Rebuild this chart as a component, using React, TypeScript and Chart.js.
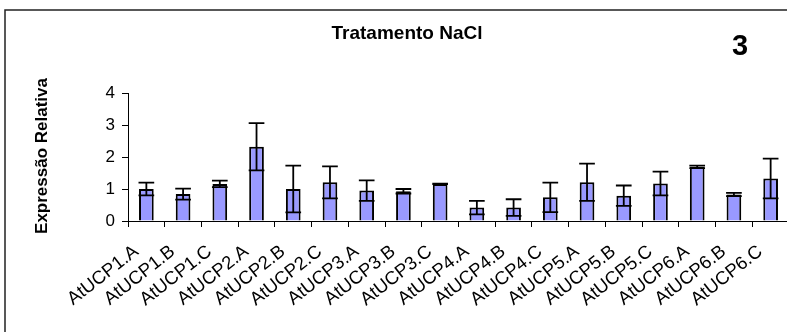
import React, { useEffect, useRef } from "react";
import { Chart, registerables } from "chart.js";

Chart.register(...registerables);

const categories = [
  "AtUCP1.A", "AtUCP1.B", "AtUCP1.C",
  "AtUCP2.A", "AtUCP2.B", "AtUCP2.C",
  "AtUCP3.A", "AtUCP3.B", "AtUCP3.C",
  "AtUCP4.A", "AtUCP4.B", "AtUCP4.C",
  "AtUCP5.A", "AtUCP5.B", "AtUCP5.C",
  "AtUCP6.A", "AtUCP6.B", "AtUCP6.C",
];
const values = [1.0, 0.84, 1.16, 2.32, 1.0, 1.21, 0.95, 0.93, 1.16, 0.42, 0.42, 0.74, 1.21, 0.79, 1.17, 1.69, 0.83, 1.33];
const errors = [0.2, 0.17, 0.1, 0.74, 0.73, 0.5, 0.32, 0.07, 0.01, 0.21, 0.26, 0.46, 0.58, 0.32, 0.37, 0.04, 0.05, 0.62];
const yTicks = [0, 1, 2, 3, 4];
const chartTitle = "Tratamento NaCl";
const yTitle = "Expressão Relativa";
const panelLabel = "3";

const FONT = "'Liberation Sans', Arial, sans-serif";
const LABEL_ANGLE = (38 * Math.PI) / 180;

const overlayPlugin = {
  id: "overlay",
  beforeDraw(chart: any) {
    const ctx = chart.ctx;
    ctx.save();
    ctx.strokeStyle = "#222";
    ctx.lineWidth = 1.5;
    ctx.strokeRect(5, 10, 900, 400);
    ctx.restore();
  },
  afterDatasetsDraw(chart: any) {
    const ctx = chart.ctx;
    const meta = chart.getDatasetMeta(0);
    const yScale = chart.scales.y;
    ctx.save();
    ctx.strokeStyle = "#000";
    ctx.lineWidth = 1.8;
    meta.data.forEach((bar: any, i: number) => {
      const v = values[i];
      const e = errors[i];
      const x = bar.x;
      const half = bar.width / 2 + 0.5;
      const yt = yScale.getPixelForValue(v + e);
      const yb = yScale.getPixelForValue(Math.max(v - e, 0));
      ctx.beginPath();
      ctx.moveTo(x, yt);
      ctx.lineTo(x, yb);
      ctx.moveTo(x - half, yt);
      ctx.lineTo(x + half, yt);
      ctx.moveTo(x - half, yb);
      ctx.lineTo(x + half, yb);
      ctx.stroke();
    });
    ctx.restore();
  },
  afterDraw(chart: any) {
    const ctx = chart.ctx;
    const xScale = chart.scales.x;
    ctx.save();
    ctx.fillStyle = "#000";
    ctx.font = `18.5px ${FONT}`;
    ctx.textAlign = "right";
    ctx.textBaseline = "alphabetic";
    categories.forEach((label, i) => {
      const cx = xScale.getPixelForTick(i);
      ctx.save();
      ctx.translate(cx - 7, xScale.top + 32.5);
      ctx.rotate(-LABEL_ANGLE);
      ctx.fillText(label, 0, 0);
      ctx.restore();
    });
    ctx.textAlign = "center";
    ctx.textBaseline = "middle";
    ctx.font = `bold 19px ${FONT}`;
    ctx.fillText(chartTitle, 407, 34);
    ctx.font = `bold 29px ${FONT}`;
    ctx.fillText(panelLabel, 740, 47);
    ctx.translate(42, 156);
    ctx.rotate(-Math.PI / 2);
    ctx.font = `bold 17px ${FONT}`;
    ctx.fillText(yTitle, 0, 0);
    ctx.restore();
  },
};

export default function App() {
  const ref = useRef<HTMLCanvasElement | null>(null);
  useEffect(() => {
    if (!ref.current) return;
    const chart = new Chart(ref.current, {
      type: "bar",
      data: {
        labels: categories,
        datasets: [
          {
            data: values,
            backgroundColor: "#9999FF",
            borderColor: "#000",
            borderWidth: 2,
            categoryPercentage: 1,
            barPercentage: 0.4,
          },
        ],
      },
      options: {
        animation: false,
        responsive: false,
        devicePixelRatio: 1,
        layout: { padding: { top: 93, right: 11, left: 0, bottom: 0 } },
        plugins: {
          legend: { display: false },
          title: { display: false },
          tooltip: { enabled: false },
        },
        scales: {
          x: {
            offset: true,
            afterFit: (s: any) => {
              s.height = 111;
            },
            border: { display: true, color: "#000", width: 1 },
            grid: {
              display: true,
              offset: true,
              drawOnChartArea: false,
              drawTicks: true,
              tickLength: 6,
              color: "#000",
            },
            ticks: {
              display: false,
              autoSkip: false,
            },
          },
          y: {
            min: 0,
            max: 4,
            afterFit: (s: any) => {
              s.width = 128;
            },
            afterBuildTicks: (s: any) => {
              s.ticks = yTicks.map((v) => ({ value: v }));
            },
            border: { display: true, color: "#000", width: 1 },
            grid: {
              display: true,
              drawOnChartArea: false,
              drawTicks: true,
              tickLength: 6,
              color: "#000",
            },
            ticks: {
              padding: 7,
              color: "#000",
              font: { family: FONT, size: 17 },
            },
          },
        },
      },
      plugins: [overlayPlugin],
    });
    return () => chart.destroy();
  }, []);
  return (
    <div style={{ position: "fixed", left: 0, top: 0, width: 787, height: 332, overflow: "hidden", background: "#fff" }}>
      <canvas ref={ref} width={800} height={332} style={{ display: "block", width: 800, height: 332 }} />
    </div>
  );
}
